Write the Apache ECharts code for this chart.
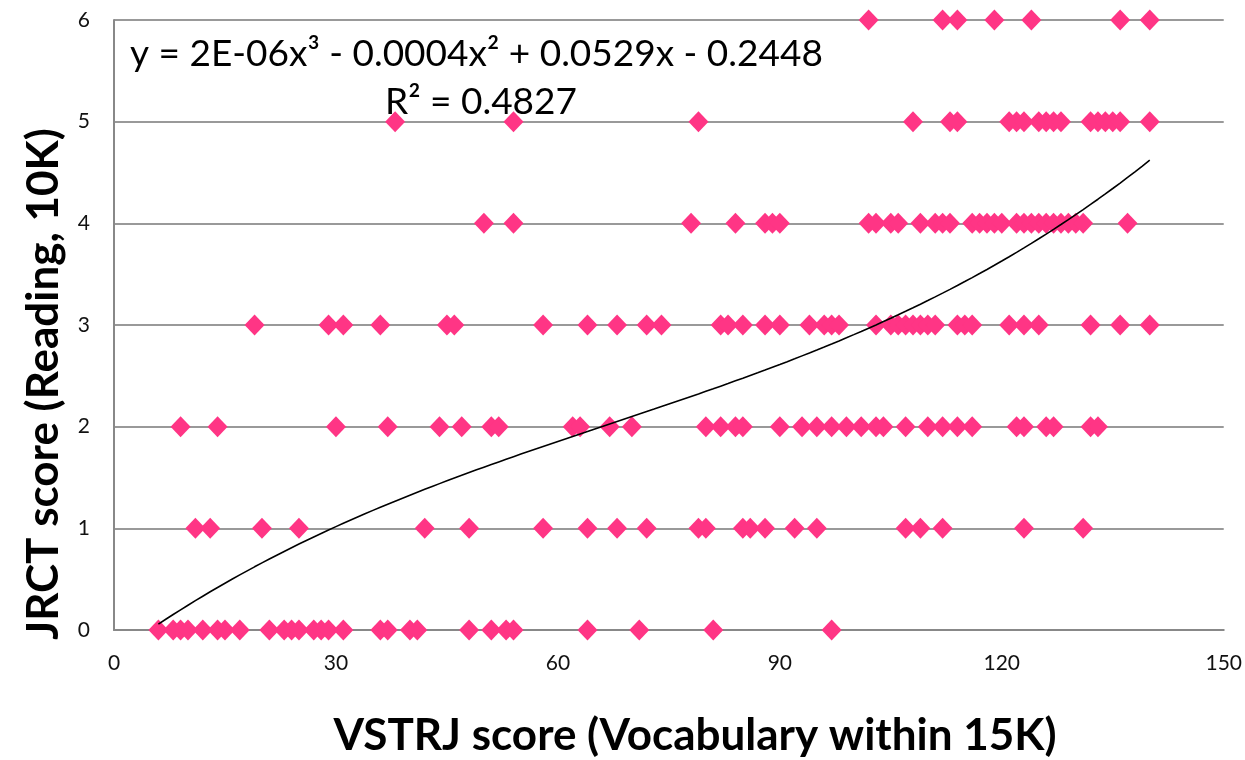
<!DOCTYPE html>
<html>
<head>
<meta charset="utf-8">
<script src="https://cdn.jsdelivr.net/npm/echarts@6/dist/echarts.min.js"></script>
<style>
  html, body { margin: 0; padding: 0; background: #fff; }
  #chart { width: 1245px; height: 760px; }
</style>
</head>
<body>
<div id="chart"></div>
<script>
// VSTRJ scores (x) of the students, grouped by their JRCT score (y = 0..6)
const jrct0 = [6, 8, 9, 10, 12, 14, 15, 17, 21, 23, 24, 25, 27, 28, 29, 31, 36, 37, 40, 41, 48, 51, 53, 54, 64, 71, 81, 97];
const jrct1 = [11, 13, 20, 25, 42, 48, 58, 64, 68, 72, 79, 80, 85, 86, 88, 92, 95, 107, 109, 112, 123, 131];
const jrct2 = [9, 14, 30, 37, 44, 47, 51, 52, 62, 63, 67, 70, 80, 82, 84, 85, 90, 93, 95, 97, 99, 101, 103, 104, 107, 110, 112, 114, 116, 122, 123, 126, 127, 132, 133];
const jrct3 = [19, 29, 31, 36, 45, 46, 58, 64, 68, 72, 74, 82, 83, 85, 88, 90, 94, 96, 97, 98, 103, 105, 106, 107, 108, 109, 110, 111, 114, 115, 116, 121, 123, 125, 132, 136, 140];
const jrct4 = [50, 54, 78, 84, 88, 89, 90, 102, 103, 105, 106, 109, 111, 112, 113, 116, 117, 118, 119, 120, 122, 123, 124, 125, 126, 127, 128, 129, 130, 131, 137];
const jrct5 = [38, 54, 79, 108, 113, 114, 121, 122, 123, 125, 126, 127, 128, 132, 133, 134, 135, 136, 140];
const jrct6 = [102, 112, 114, 119, 124, 136, 140];

// poly 3 trendline: c0 + c1 x + c2 x^2 + c3 x^3
// (the printed label is rounded, c2/c3 read a bit finer from the drawn curve)
const trendCoef = [-0.2448, 0.0529, -0.000425, 2.11e-6];
const trendRange = [6, 140];

const equationText = 'y = 2E-06x³ - 0.0004x² + 0.0529x - 0.2448';
const r2Text = 'R² = 0.4827';

const groups = [jrct0, jrct1, jrct2, jrct3, jrct4, jrct5, jrct6];
let points = [];
groups.forEach((xs, level) => {
  xs.forEach(x => points.push([x, level]));
});

let trend = [];
for (let x = trendRange[0]; x <= trendRange[1]; x += 1) {
  const y = trendCoef[0] + trendCoef[1] * x + trendCoef[2] * x * x + trendCoef[3] * x * x * x;
  trend.push([x, y]);
}

let myChart = echarts.init(document.getElementById('chart'));
myChart.setOption({
  animation: false,
  grid: {
    left: 114,
    right: 18,
    top: 20,
    bottom: 130
  },
  xAxis: {
    type: 'value',
    min: 0,
    max: 150,
    interval: 30,
    axisLine: { show: true, lineStyle: { color: '#888', width: 2 } },
    axisTick: { show: false },
    splitLine: { show: false },
    axisLabel: { color: '#111', fontSize: 21, fontFamily: 'Lato', margin: 23 }
  },
  yAxis: {
    type: 'value',
    min: 0,
    max: 6,
    interval: 1,
    axisLine: { show: true, lineStyle: { color: '#888', width: 2 } },
    axisTick: { show: false },
    splitLine: { show: true, lineStyle: { color: '#999', width: 2 } },
    axisLabel: { color: '#111', fontSize: 21, fontFamily: 'Lato', margin: 24 }
  },
  series: [
    {
      name: 'scores',
      type: 'scatter',
      symbol: 'diamond',
      symbolSize: [20, 21],
      itemStyle: { color: '#ff3585', opacity: 1 },
      data: points,
      z: 2
    },
    {
      name: 'trend',
      type: 'line',
      showSymbol: false,
      smooth: false,
      lineStyle: { color: '#000', width: 1.6 },
      data: trend,
      z: 3
    }
  ],
  graphic: [
    {
      type: 'text',
      left: 130,
      top: 36,
      style: { text: equationText, font: '37px Lato', fill: '#000' },
      z: 10
    },
    {
      type: 'text',
      left: 385,
      top: 84,
      style: { text: r2Text, font: '37px Lato', fill: '#000' },
      z: 10
    },
    {
      type: 'text',
      x: 695,
      y: 736,
      style: {
        text: 'VSTRJ score (Vocabulary within 15K)',
        font: 'bold 44px Lato', fill: '#000',
        textAlign: 'center', textVerticalAlign: 'middle'
      }
    },
    {
      type: 'text',
      x: 44,
      y: 384,
      rotation: Math.PI / 2,
      style: {
        text: 'JRCT score (Reading, 10K)',
        font: 'bold 44px Lato', fill: '#000',
        textAlign: 'center', textVerticalAlign: 'middle'
      }
    }
  ]
});
window.addEventListener('resize', () => {
  if (myChart) {
    myChart.resize()
  }
})
</script>
</body>
</html>
